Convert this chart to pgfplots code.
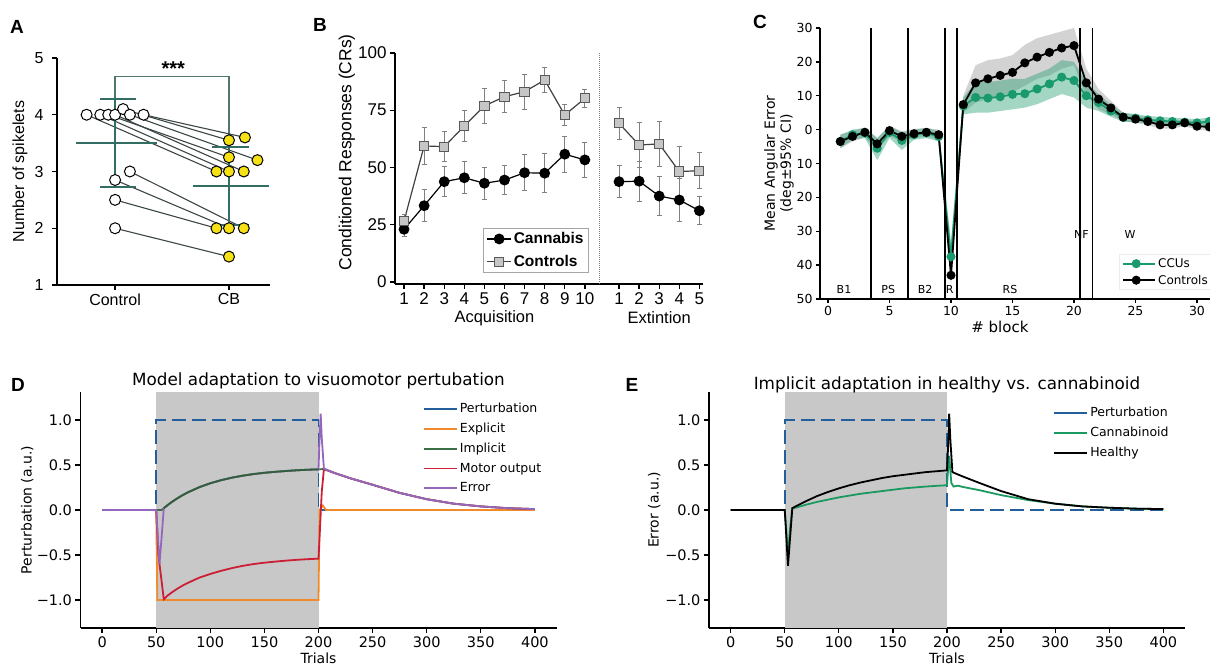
\documentclass[border=0pt]{standalone}
\usepackage{fontspec}
\setmainfont{Liberation Sans}
\newfontfamily\dv{DejaVu Sans}
\usepackage{pgfplots}
\pgfplotsset{compat=1.18}

\definecolor{meanc}{RGB}{50,110,100}
\definecolor{yel}{RGB}{245,225,20}
\definecolor{pairc}{RGB}{60,70,70}
\definecolor{ccu}{RGB}{24,154,108}
\definecolor{shade}{RGB}{200,200,200}
\definecolor{pblue}{RGB}{35,95,155}
\definecolor{porange}{RGB}{240,138,42}
\definecolor{pgreen}{RGB}{59,112,69}
\definecolor{pred}{RGB}{204,31,53}
\definecolor{ppurple}{RGB}{148,103,189}
\definecolor{cgreen}{RGB}{26,154,96}

\newcommand\fa{\fontsize{16}{19}\selectfont}
\newcommand\fb{\fontsize{17}{20}\selectfont}
\newcommand\fd{\dv\fontsize{14.5}{17}\selectfont}

\pgfplotsset{
  panel/.style={scale only axis, axis lines*=left,
    axis line style={-, line width=1.6pt, black},
    tick align=outside, major tick length=5pt,
    tick style={line width=1.3pt, black},
    /pgf/number format/assume math mode=true, clip=false},
  model/.style={panel, width=476pt, height=236pt,
    xmin=-20, xmax=420, ymin=-1.31, ymax=1.31,
    xtick={0,50,...,400}, ytick={-1,-0.5,0,0.5,1},
    yticklabels={−1.0,−0.5,0.0,0.5,1.0},
    tick label style={font=\fd},
    label style={font=\dv\fontsize{14}{17}\selectfont},
    title style={font=\dv\fontsize{16.8}{19}\selectfont},
    legend style={draw=none, fill=none, font=\dv\fontsize{12.5}{14}\selectfont,
      row sep=5pt, anchor=north west},
    legend cell align=left,
    legend image code/.code={\path (0pt,0pt) -- (33pt,0pt); \draw[#1,solid] (0pt,0pt) -- (27pt,0pt);}},
}

\begin{document}
\begin{tikzpicture}
\useasboundingbox (0pt,0pt) rectangle (1210pt,666pt);

% panel letters
\node[font=\fontsize{19}{22}\selectfont\bfseries] at (17pt,639pt) {A};
\node[font=\fontsize{19}{22}\selectfont\bfseries] at (320pt,641pt) {B};
\node[font=\fontsize{19}{22}\selectfont\bfseries] at (760pt,644pt) {C};
\node[font=\fontsize{19}{22}\selectfont\bfseries] at (18pt,281pt) {D};
\node[font=\fontsize{19}{22}\selectfont\bfseries] at (632pt,281pt) {E};

% ---------------- A
\begin{axis}[panel, at={(57pt,381pt)}, anchor=south west, width=213pt, height=227pt,
  xmin=0.49, xmax=2.36, ymin=1, ymax=5,
  xtick={1,2}, xticklabels={Control,CB}, ytick={1,2,3,4,5},
  tick label style={font=\fa}, yticklabel style={xshift=-5pt},
  ylabel={Number of spikelets},
  ylabel style={font=\fa, at={(axis description cs:-0.174,0.5)}, anchor=center}]
\addplot[meanc!60!gray, line width=1.2pt] coordinates {(1,4.28) (1,4.68) (2,4.68) (2,3.65)};
\node[font=\fontsize{20}{20}\selectfont\bfseries] at (axis cs:1.51,4.82) {***};
\addplot[pairc, line width=1.1pt] coordinates {(0.75,4.0) (1.89,3.0)};
\addplot[pairc, line width=1.1pt] coordinates {(0.87,4.0) (2.0,3.0)};
\addplot[pairc, line width=1.1pt] coordinates {(0.94,4.0) (2.0,3.25)};
\addplot[pairc, line width=1.1pt] coordinates {(1.0,4.0) (2.13,3.0)};
\addplot[pairc, line width=1.1pt] coordinates {(1.07,4.1) (2.0,3.55)};
\addplot[pairc, line width=1.1pt] coordinates {(1.13,4.0) (2.25,3.2)};
\addplot[pairc, line width=1.1pt] coordinates {(1.25,4.0) (2.14,3.6)};
\addplot[pairc, line width=1.1pt] coordinates {(1.0,2.85) (2.0,2.0)};
\addplot[pairc, line width=1.1pt] coordinates {(1.13,3.0) (2.13,2.0)};
\addplot[pairc, line width=1.1pt] coordinates {(1.0,2.5) (1.89,2.0)};
\addplot[pairc, line width=1.1pt] coordinates {(1.0,2.0) (2.0,1.5)};
% mean +- SD
\addplot[meanc, line width=2pt] coordinates {(0.66,3.5) (1.37,3.5)};
\addplot[meanc, line width=2pt] coordinates {(1.0,2.73) (1.0,4.27)};
\addplot[meanc, line width=2pt] coordinates {(0.87,4.27) (1.18,4.27)};
\addplot[meanc, line width=2pt] coordinates {(0.87,2.73) (1.18,2.73)};
\addplot[meanc, line width=2pt] coordinates {(1.68,2.74) (2.35,2.74)};
\addplot[meanc, line width=2pt] coordinates {(2.0,2.06) (2.0,3.44)};
\addplot[meanc, line width=2pt] coordinates {(1.85,3.44) (2.18,3.44)};
\addplot[meanc, line width=2pt] coordinates {(1.85,2.06) (2.18,2.06)};
\addplot[only marks, mark=*, mark size=5.5pt, mark options={fill=white, draw=black, line width=1pt}]
  coordinates {(0.75,4.0) (0.87,4.0) (0.94,4.0) (1.0,4.0) (1.07,4.1) (1.13,4.0) (1.25,4.0)
               (1.0,2.85) (1.13,3.0) (1.0,2.5) (1.0,2.0)};
\addplot[only marks, mark=*, mark size=5.5pt, mark options={fill=yel, draw=black, line width=1pt}]
  coordinates {(2.14,3.6) (2.0,3.55) (2.0,3.25) (2.25,3.2) (1.89,3.0) (2.0,3.0) (2.13,3.0)
               (1.89,2.0) (2.0,2.0) (2.13,2.0) (2.0,1.5)};
\end{axis}

% ---------------- B
\begin{axis}[panel, at={(395pt,382pt)}, anchor=south west, width=308pt, height=231pt,
  xmin=0.55, xmax=15.88, ymin=-0.9, ymax=100,
  xtick={1,2,3,4,5,6,7,8,9,10,11.7,12.7,13.7,14.7,15.7},
  xticklabels={1,2,3,4,5,6,7,8,9,10,1,2,3,4,5},
  ytick={0,25,50,75,100},
  tick label style={font=\fb},
  ylabel={Conditioned Responses (CRs)},
  ylabel style={font=\fontsize{17.5}{20}\selectfont, at={(axis description cs:-0.156,0.57)}, anchor=center},
  legend style={at={(axis description cs:0.286,0.242)}, anchor=north west,
    draw=gray!70, line width=1pt, font=\fontsize{15.5}{18}\selectfont\bfseries, row sep=6pt},
  legend image code/.code={\draw[#1, mark repeat=2, mark phase=2] plot coordinates {(0pt,0pt) (12pt,0pt) (24pt,0pt)};},
  legend cell align=left]
\addplot[gray, densely dotted, line width=1pt, forget plot] coordinates {(10.75,-0.9) (10.75,100)};
\addplot[black, line width=1.2pt, mark=*, mark size=4.8pt,
  error bars/.cd, y dir=both, y explicit,
  error bar style={gray, line width=1pt}, error mark options={rotate=90, mark size=2.5pt, gray, line width=1pt}]
  coordinates {(1,23)+-(0,3.1) (2,33.3)+-(0,6.9) (3,43.8)+-(0,6.5) (4,45.5)+-(0,7) (5,43.1)+-(0,6.9)
               (6,44.5)+-(0,6.5) (7,47.7)+-(0,7.8) (8,47.5)+-(0,8.4) (9,55.8)+-(0,7.9) (10,53.3)+-(0,7.6)};
\addlegendentry{Cannabis}
\addplot[black!75, line width=1.2pt, mark=square*, mark size=4.6pt, mark options={fill=gray!45, draw=gray!70!black, line width=1pt},
  error bars/.cd, y dir=both, y explicit,
  error bar style={gray, line width=1pt}, error mark options={rotate=90, mark size=2.5pt, gray, line width=1pt}]
  coordinates {(1,26.6)+-(0,3) (2,59.4)+-(0,8) (3,59.1)+-(0,6.4) (4,68.1)+-(0,6.7) (5,76.9)+-(0,7.6)
               (6,80.9)+-(0,6.9) (7,83.1)+-(0,7.6) (8,88.2)+-(0,5.5) (9,72.9)+-(0,4.6) (10,80.2)+-(0,3.8)};
\addlegendentry{Controls}
\addplot[black, line width=1.2pt, mark=*, mark size=4.8pt, forget plot,
  error bars/.cd, y dir=both, y explicit,
  error bar style={gray, line width=1pt}, error mark options={rotate=90, mark size=2.5pt, gray, line width=1pt}]
  coordinates {(11.7,43.8)+-(0,6.9) (12.7,44)+-(0,8.7) (13.7,37.5)+-(0,8.4) (14.7,35.8)+-(0,9.4) (15.7,31.1)+-(0,6.2)};
\addplot[black!75, line width=1.2pt, mark=square*, mark size=4.6pt, mark options={fill=gray!45, draw=gray!70!black, line width=1pt}, forget plot,
  error bars/.cd, y dir=both, y explicit,
  error bar style={gray, line width=1pt}, error mark options={rotate=90, mark size=2.5pt, gray, line width=1pt}]
  coordinates {(11.7,69.3)+-(0,7.1) (12.7,59.8)+-(0,10) (13.7,60.3)+-(0,9.8) (14.7,48.2)+-(0,11) (15.7,48.6)+-(0,8)};
\node[font=\fontsize{16.5}{19}\selectfont] at (axis cs:5.5,-15.7) {Acquisition};
\node[font=\fontsize{16.5}{19}\selectfont] at (axis cs:13.7,-15.7) {Extintion};
\end{axis}

% ---------------- C
\begin{axis}[panel, at={(820pt,367pt)}, anchor=south west, width=391pt, height=271pt,
  xmin=-0.65, xmax=31.14, ymin=-50, ymax=30,
  xtick={0,5,...,30}, ytick={-50,-40,...,30},
  yticklabels={50,40,30,20,10,0,10,20,30},
  major tick length=4pt,
  tick label style={font=\dv\fontsize{12.5}{15}\selectfont},
  ylabel={Mean Angular Error\\(deg±95\% CI)},
  ylabel style={font=\dv\fontsize{14}{16}\selectfont, align=center, at={(axis description cs:-0.105,0.5)}, anchor=center},
  xlabel={\# block},
  xlabel style={font=\dv\fontsize{15}{18}\selectfont, at={(axis description cs:0.46,-0.103)}, anchor=center},
  legend style={at={(axis description cs:0.765,0.165)}, anchor=north west, draw=gray!15, fill=white,
    font=\dv\fontsize{12}{14}\selectfont, row sep=2pt},
  legend image code/.code={\path (0pt,0pt) -- (32pt,0pt); \draw[#1, mark repeat=2, mark phase=2] plot coordinates {(0pt,0pt) (13pt,0pt) (26pt,0pt)};},
  legend cell align=left]
% Controls 95% CI band (upper then lower reversed)
\addplot[fill=gray, fill opacity=0.35, draw=none, forget plot] coordinates {
 (1,-1.5) (2,-0.5) (3,0.7) (4,-2.5) (5,1.2) (6,-0.5) (7,0.2) (8,0.5) (9,0) (10,-38) (11,10) (12,19) (13,20.5) (14,21) (15,22) (16,25)
 (17,27) (18,28) (19,29) (20,30) (21,18) (22,12) (23,8.5) (24,5) (25,4.3) (26,3.5) (27,2.6) (28,2.5) (29,3) (30,2.2) (31,2)
 (31,-0.3) (30,0) (29,1) (28,0.3) (27,0.3) (26,1.3) (25,2) (24,2.5) (23,4.5) (22,6) (21,10) (20,19) (19,18) (18,16) (17,15) (16,13)
 (15,11) (14,10) (13,9) (12,8) (11,5) (10,-46) (9,-3) (8,-2) (7,-2.5) (6,-3.5) (5,-2) (4,-6) (3,-2.3) (2,-3.5) (1,-5.5)} -- cycle;
% CCUs 95% CI band
\addplot[fill=ccu, fill opacity=0.4, draw=none, forget plot] coordinates {
 (1,-1.5) (2,0) (3,0.5) (4,-2.5) (5,1) (6,-0.8) (7,0) (8,0.5) (9,-0.5) (10,-33) (11,9.5) (12,14) (13,14) (14,14.5) (15,15) (16,15)
 (17,16.5) (18,18) (19,20.5) (20,20) (21,14) (22,10.5) (23,7.3) (24,5) (25,4.6) (26,4) (27,3.8) (28,3.5) (29,3.3) (30,3.1) (31,3.6)
 (31,1.2) (30,0.9) (29,1.1) (28,1.3) (27,1.5) (26,1.8) (25,2.2) (24,2.3) (23,3.8) (22,5.5) (21,6.5) (20,9.5) (19,10.5) (18,9) (17,7.5) (16,6.5)
 (15,6) (14,5.5) (13,5) (12,5) (11,4.5) (10,-42) (9,-3.5) (8,-2.5) (7,-3) (6,-6) (5,-2.5) (4,-9) (3,-2.5) (2,-3) (1,-5.5)} -- cycle;
\addplot[ccu, line width=1.8pt, mark=*, mark size=3.6pt] coordinates {
 (1,-3.5) (2,-1.5) (3,-1) (4,-5.5) (5,-0.8) (6,-3.2) (7,-1.5) (8,-1) (9,-2) (10,-37.5) (11,7) (12,9.5) (13,9.3) (14,9.7) (15,10.4) (16,10.6)
 (17,12) (18,13.5) (19,15.5) (20,14.5) (21,10) (22,8) (23,5.5) (24,3.6) (25,3.4) (26,2.9) (27,2.6) (28,2.4) (29,2.2) (30,2) (31,2.4)};
\addlegendentry{CCUs}
\addplot[black, line width=1.8pt, mark=*, mark size=3.6pt] coordinates {
 (1,-3.5) (2,-2) (3,-0.8) (4,-4.2) (5,-0.3) (6,-2) (7,-1.2) (8,-0.8) (9,-1.5) (10,-43) (11,7.4) (12,13.8) (13,15) (14,16) (15,16.9) (16,19.7)
 (17,21.4) (18,22.8) (19,24.1) (20,24.8) (21,13.8) (22,9) (23,6.4) (24,3.7) (25,3.1) (26,2.4) (27,1.4) (28,1.4) (29,2) (30,1) (31,0.8)};
\addlegendentry{Controls}
\addplot[black, line width=1.5pt, forget plot] coordinates {(3.5,-50) (3.5,30)};
\addplot[black, line width=1.5pt, forget plot] coordinates {(6.5,-50) (6.5,30)};
\addplot[black, line width=1.5pt, forget plot] coordinates {(9.5,-50) (9.5,30)};
\addplot[black, line width=1.5pt, forget plot] coordinates {(10.5,-50) (10.5,30)};
\addplot[black, line width=1.5pt, forget plot] coordinates {(20.5,-50) (20.5,30)};
\addplot[black, line width=1.5pt, forget plot] coordinates {(21.5,-50) (21.5,30)};
\node[font=\dv\fontsize{11}{13}\selectfont] at (axis cs:1.3,-47.3) {B1};
\node[font=\dv\fontsize{11}{13}\selectfont] at (axis cs:4.9,-47.3) {PS};
\node[font=\dv\fontsize{11}{13}\selectfont] at (axis cs:7.9,-47.3) {B2};
\node[font=\dv\fontsize{11}{13}\selectfont] at (axis cs:9.9,-47.3) {R};
\node[font=\dv\fontsize{11}{13}\selectfont] at (axis cs:14.8,-47.3) {RS};
\node[font=\dv\fontsize{11}{13}\selectfont] at (axis cs:20.6,-31) {NF};
\node[font=\dv\fontsize{11}{13}\selectfont] at (axis cs:24.55,-31) {W};
\end{axis}

% ---------------- D
\begin{axis}[model, at={(80.5pt,38pt)}, anchor=south west,
  xlabel={Trials}, xlabel style={at={(axis description cs:0.5,-0.127)}, anchor=center},
  ylabel={Perturbation (a.u.)}, ylabel style={at={(axis description cs:-0.112,0.5)}, anchor=center},
  title={Model adaptation to visuomotor pertubation},
  title style={at={(axis description cs:0.5,1.02)}, anchor=center},
  legend style={at={(axis description cs:0.713,0.97)}}]
\addplot[fill=shade, draw=none, forget plot] coordinates {(50,-1.31) (50,1.31) (200,1.31) (200,-1.31)} -- cycle;
\addplot[pblue, line width=1.8pt, dash pattern=on 14pt off 6pt] coordinates {(0,0) (50,0) (50,1) (200,1) (200,0) (400,0)};
\addlegendentry{Perturbation}
\addplot[porange, line width=1.8pt] coordinates {(0,0) (50,0) (51,-1) (200,-1) (201,0) (204,0.05) (207,0) (400,0)};
\addlegendentry{Explicit}
\addplot[pgreen, line width=1.8pt] coordinates {
 (0,0) (55,0) (60,0.049) (65,0.094) (70,0.133) (75,0.169) (80,0.2) (90,0.254) (100,0.297) (110,0.331) (120,0.359)
 (130,0.381) (140,0.399) (150,0.413) (160,0.424) (170,0.433) (180,0.441) (190,0.447) (200,0.451) (205,0.455)
 (215,0.41) (230,0.35) (250,0.28) (275,0.19) (300,0.12) (325,0.07) (350,0.04) (375,0.02) (400,0.01)};
\addlegendentry{Implicit}
\addplot[pred, line width=1.8pt] coordinates {
 (0,0) (50,0) (52,-0.5) (57,-0.99) (60,-0.955) (65,-0.91) (70,-0.87) (75,-0.835) (80,-0.805) (90,-0.75) (100,-0.71)
 (110,-0.675) (120,-0.645) (130,-0.62) (140,-0.6) (150,-0.585) (160,-0.573) (170,-0.562) (180,-0.553) (190,-0.546)
 (200,-0.54) (201,-0.3) (203,0.2) (205,0.455) (215,0.41) (230,0.35) (250,0.28) (275,0.19) (300,0.12) (325,0.07)
 (350,0.04) (375,0.02) (400,0.01)};
\addlegendentry{Motor output}
\addplot[ppurple, line width=1.8pt] coordinates {
 (0,0) (50,0) (51,-0.2) (53,-0.6) (55,-0.3) (57,0.02) (60,0.049) (65,0.094) (70,0.133) (75,0.169) (80,0.2) (90,0.254)
 (100,0.297) (110,0.331) (120,0.359) (130,0.381) (140,0.399) (150,0.413) (160,0.424) (170,0.433) (180,0.441)
 (190,0.447) (200,0.451) (201,0.8) (202,1.07) (203,0.8) (205,0.46) (215,0.41) (230,0.35) (250,0.28) (275,0.19)
 (300,0.12) (325,0.07) (350,0.04) (375,0.02) (400,0.01)};
\addlegendentry{Error}
\addplot[pgreen!85!black, line width=1.8pt, forget plot] coordinates {
 (57,0.02) (60,0.049) (65,0.094) (70,0.133) (75,0.169) (80,0.2) (90,0.254) (100,0.297) (110,0.331) (120,0.359)
 (130,0.381) (140,0.399) (150,0.413) (160,0.424) (170,0.433) (180,0.441) (190,0.447) (200,0.451)};
\end{axis}

% ---------------- E
\begin{axis}[model, at={(709pt,38pt)}, anchor=south west,
  xlabel={Trials}, xlabel style={at={(axis description cs:0.5,-0.127)}, anchor=center},
  ylabel={Error (a.u.)}, ylabel style={at={(axis description cs:-0.115,0.5)}, anchor=center},
  title={Implicit adaptation in healthy vs. cannabinoid},
  title style={at={(axis description cs:0.5,1.003)}, anchor=center},
  legend style={at={(axis description cs:0.717,0.953)}}]
\addplot[fill=shade, draw=none, forget plot] coordinates {(50,-1.31) (50,1.31) (200,1.31) (200,-1.31)} -- cycle;
\addplot[pblue, line width=1.8pt, dash pattern=on 14pt off 6pt] coordinates {(0,0) (50,0) (50,1) (200,1) (200,0) (400,0)};
\addlegendentry{Perturbation}
\addplot[cgreen, line width=1.8pt] coordinates {
 (0,0) (50,0) (51,-0.15) (53,-0.5) (55,-0.2) (57,0.02) (60,0.025) (70,0.06) (80,0.09) (90,0.115) (100,0.14) (110,0.16)
 (120,0.18) (130,0.195) (140,0.21) (150,0.225) (160,0.24) (170,0.25) (180,0.26) (190,0.268) (200,0.275) (201,0.45)
 (202,0.6) (204,0.3) (206,0.26) (210,0.27) (215,0.255) (230,0.22) (250,0.165) (275,0.11) (300,0.07) (325,0.04)
 (350,0.025) (375,0.015) (400,0.01)};
\addlegendentry{Cannabinoid}
\addplot[black, line width=1.8pt] coordinates {
 (0,0) (50,0) (51,-0.2) (53,-0.62) (55,-0.3) (57,0.02) (60,0.04) (70,0.1) (80,0.155) (90,0.2) (100,0.24) (110,0.275)
 (120,0.305) (130,0.33) (140,0.355) (150,0.375) (160,0.39) (170,0.405) (180,0.42) (190,0.43) (200,0.44) (201,0.7)
 (202,1.07) (203,0.8) (205,0.42) (215,0.37) (230,0.3) (250,0.21) (275,0.12) (300,0.07) (325,0.04) (350,0.025)
 (375,0.015) (400,0.01)};
\addlegendentry{Healthy}
\end{axis}
\end{tikzpicture}
\end{document}
